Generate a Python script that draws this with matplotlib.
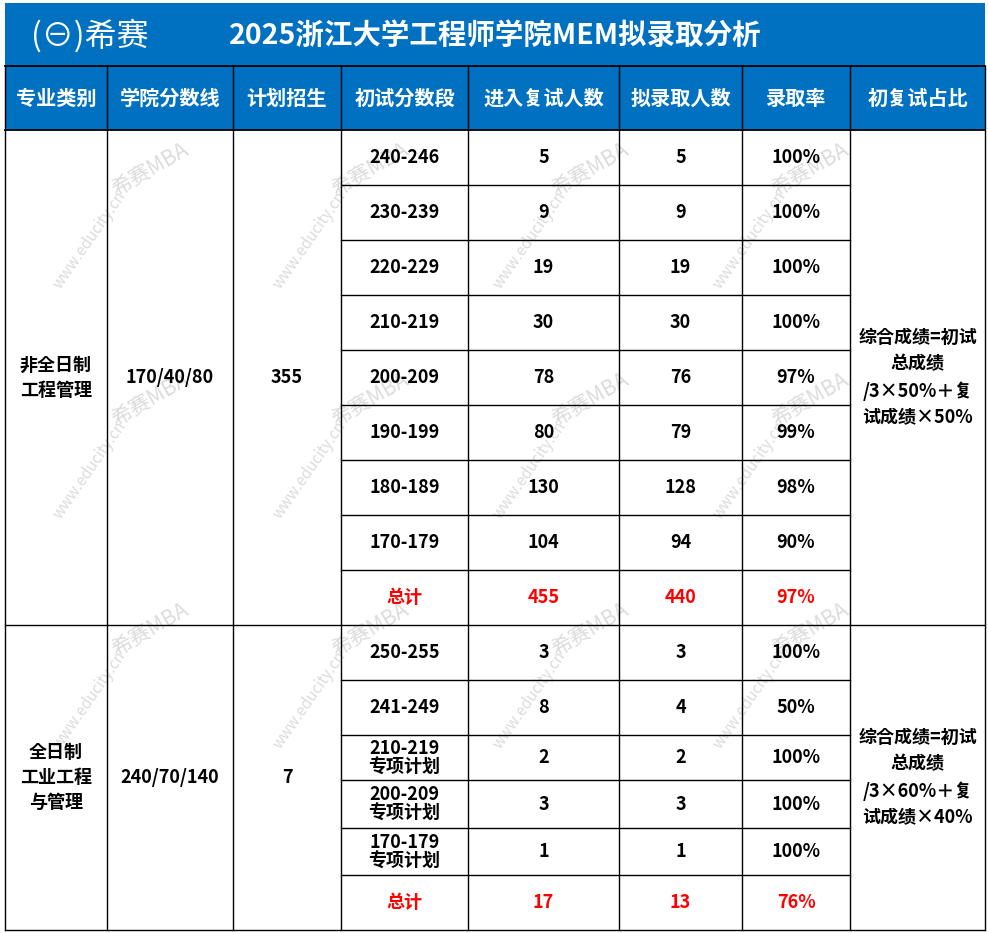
import matplotlib
matplotlib.use('Agg')
import matplotlib.pyplot as plt
from matplotlib.patches import Rectangle
from matplotlib import font_manager

cjk = [f.name for f in font_manager.fontManager.ttflist if 'Sans CJK' in f.name]
cjk_name = next((n for n in cjk if n.endswith('SC')), cjk[0] if cjk else 'DejaVu Sans')
plt.rcParams['font.family'] = [cjk_name, 'DejaVu Sans']

W, H = 988, 933
fig = plt.figure(figsize=(W / 100, H / 100), dpi=100)
ax = fig.add_axes([0, 0, 1, 1])
ax.set_xlim(0, W)
ax.set_ylim(H, 0)
ax.axis('off')

BLUE = '#0070C0'
RED = '#FF0000'

title = '2025浙江大学工程师学院MEM拟录取分析'
headers = ['专业类别', '学院分数线', '计划招生', '初试分数段', '进入复试人数', '拟录取人数', '录取率', '初复试占比']

# section 1: 非全日制
s1_major = '非全日制\n工程管理'
s1_line = '170/40/80'
s1_plan = '355'
s1_bands = ['240-246', '230-239', '220-229', '210-219', '200-209', '190-199', '180-189', '170-179']
s1_retest = [5, 9, 19, 30, 78, 80, 130, 104]
s1_admit = [5, 9, 19, 30, 76, 79, 128, 94]
s1_rate = ['100%', '100%', '100%', '100%', '97%', '99%', '98%', '90%']
s1_total = [455, 440, '97%']
s1_ratio = '综合成绩=初试\n总成绩\n/3×50%＋复\n试成绩×50%'

# section 2: 全日制
s2_major = '全日制\n工业工程\n与管理'
s2_line = '240/70/140'
s2_plan = '7'
s2_bands = ['250-255', '241-249', '210-219\n专项计划', '200-209\n专项计划', '170-179\n专项计划']
s2_retest = [3, 8, 2, 3, 1]
s2_admit = [3, 4, 2, 3, 1]
s2_rate = ['100%', '50%', '100%', '100%', '100%']
s2_total = [17, 13, '76%']
s2_ratio = '综合成绩=初试\n总成绩\n/3×60%＋复\n试成绩×40%'

xs = [5, 107, 233, 341, 468, 619, 742, 850, 985]
top = 3
head_y0, head_y1 = 66, 130
s1_rows = [130, 185, 240, 295, 350, 405, 460, 515, 570, 625]
s2_rows = [625, 680, 735, 780, 828, 875, 930]

ax.add_patch(Rectangle((0, 0), W, H, fc='white', ec='none'))

# title bar and header
ax.add_patch(Rectangle((xs[0], top), xs[-1] - xs[0], head_y1 - top, fc=BLUE, ec='none'))
ax.text(90, 36, '(⊖)希赛', ha='center', va='center', fontsize=23, color='white')
ax.text(495, 36, title, ha='center', va='center', fontsize=20.5, fontweight='bold', color='white')
for i, h in enumerate(headers):
    ax.text((xs[i] + xs[i + 1]) / 2, (head_y0 + head_y1) / 2, h, ha='center', va='center',
            fontsize=14.5, fontweight='bold', color='white')

# watermarks
for wx in range(150, 900, 220):
    for wy in range(170, 860, 230):
        ax.text(wx, wy, '希赛MBA', fontsize=15, color='#dcdcdc', rotation=30, ha='center', va='center', zorder=1)
        ax.text(wx - 60, wy + 70, 'www.educity.cn', fontsize=11, color='#dcdcdc', rotation=55,
                ha='center', va='center', zorder=1)

def hline(x0, x1, y, lw=1.0):
    ax.plot([x0, x1], [y, y], color='black', lw=lw, zorder=3)

def vline(x, y0, y1, lw=1.0):
    ax.plot([x, x], [y0, y1], color='black', lw=lw, zorder=3)

def section(rows, major, line, plan, bands, retest, admit, rate, total, ratio):
    y0, y1 = rows[0], rows[-1]
    ym = (y0 + y1) / 2
    for i, t in enumerate([major, line, plan]):
        ax.text((xs[i] + xs[i + 1]) / 2, ym, t, ha='center', va='center', fontsize=13,
                fontweight='bold', linespacing=1.4, zorder=4)
    ax.text((xs[7] + xs[8]) / 2, ym, ratio, ha='center', va='center', fontsize=13,
            fontweight='bold', linespacing=1.5, zorder=4)
    vals = list(zip(bands, retest, admit, rate))
    for r, (b, n1, n2, rt) in enumerate(vals):
        yc = (rows[r] + rows[r + 1]) / 2
        for j, t in enumerate([b, n1, n2, rt]):
            ax.text((xs[3 + j] + xs[4 + j]) / 2, yc, str(t), ha='center', va='center',
                    fontsize=13, fontweight='bold', linespacing=1.0, zorder=4)
    yc = (rows[-2] + rows[-1]) / 2
    ax.text((xs[3] + xs[4]) / 2, yc, '总计', ha='center', va='center', fontsize=13,
            fontweight='bold', color=RED, zorder=4)
    for j, t in enumerate(total):
        ax.text((xs[4 + j] + xs[5 + j]) / 2, yc, str(t), ha='center', va='center',
                fontsize=13, fontweight='bold', color=RED, zorder=4)
    for y in rows[1:-1]:
        hline(xs[3], xs[7], y)
    hline(xs[0], xs[-1], y1)

section(s1_rows, s1_major, s1_line, s1_plan, s1_bands, s1_retest, s1_admit, s1_rate, s1_total, s1_ratio)
section(s2_rows, s2_major, s2_line, s2_plan, s2_bands, s2_retest, s2_admit, s2_rate, s2_total, s2_ratio)

hline(xs[0], xs[-1], head_y0, 1.3)
hline(xs[0], xs[-1], head_y1, 1.3)
for x in xs:
    vline(x, head_y0, s2_rows[-1])

fig.savefig('out.png', dpi=100)
